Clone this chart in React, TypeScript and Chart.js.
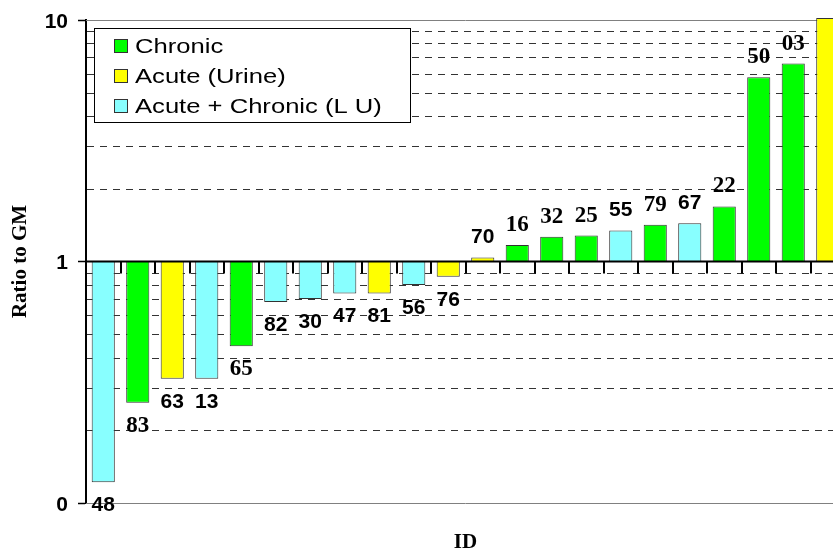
import React, { useEffect, useRef } from "react";
import { Chart, registerables } from "chart.js";

Chart.register(...registerables);

// ---- Data ----
const categories = ["48", "83", "63", "13", "65", "82", "30", "47", "81", "56", "76", "70", "16", "32", "25", "55", "79", "67", "22", "50", "03", ""];
const ratios = [0.122, 0.26, 0.327, 0.327, 0.446, 0.68, 0.70, 0.737, 0.737, 0.80, 0.865, 1.04, 1.17, 1.265, 1.28, 1.345, 1.42, 1.44, 1.69, 5.8, 6.6, 10.2];
const groups = ["LU", "Chronic", "Urine", "LU", "Chronic", "LU", "LU", "LU", "Urine", "LU", "Urine", "Urine", "Chronic", "Chronic", "Chronic", "LU", "Chronic", "LU", "Chronic", "Chronic", "Chronic", "Urine"];
const seriesKeys = ["Chronic", "Urine", "LU"];
const seriesNames = ["Chronic", "Acute (Urine)", "Acute + Chronic (L U)"];
const yTickValues = [0.1, 1, 10];
const yTickLabels = ["0", "1", "10"];
const minorGridValues = [0.2, 0.3, 0.4, 0.5, 0.6, 0.7, 0.8, 0.9, 2, 3, 4, 5, 6, 7, 8, 9];
const yTitle = "Ratio to GM";
const xTitle = "ID";

// ---- Styles ----
const seriesColors = ["#00FF00", "#FFFF00", "#88FFFF"];
const serifLabelIds = new Set(["83", "65", "16", "32", "25", "79", "22", "50", "03"]);
const SANS = "'Liberation Sans', Arial, sans-serif";
const SERIF = "'Liberation Serif', 'Times New Roman', serif";

const decorPlugin = {
  id: "decor",
  beforeDatasetsDraw(chart: any) {
    const { ctx, chartArea: a, scales } = chart;
    const y = scales.y;
    ctx.save();
    // dashed minor grid
    ctx.strokeStyle = "#333";
    ctx.lineWidth = 1;
    ctx.setLineDash([7, 6]);
    for (const v of minorGridValues) {
      const py = Math.round(y.getPixelForValue(v)) + 0.5;
      ctx.beginPath();
      ctx.moveTo(a.left + 1, py);
      ctx.lineTo(a.right, py);
      ctx.stroke();
    }
    ctx.setLineDash([]);
    // top & bottom solid gray borders
    ctx.strokeStyle = "#808080";
    for (const v of [y.min, y.max]) {
      const py = Math.round(y.getPixelForValue(v)) + 0.5;
      ctx.beginPath();
      ctx.moveTo(a.left, py);
      ctx.lineTo(a.right, py);
      ctx.stroke();
    }
    ctx.restore();
  },
  afterDatasetsDraw(chart: any) {
    const { ctx, chartArea: a, scales } = chart;
    const x = scales.x;
    const y = scales.y;
    ctx.save();
    // axis line at ratio 1
    const py1 = y.getPixelForValue(1);
    ctx.strokeStyle = "#000";
    ctx.lineWidth = 2;
    ctx.beginPath();
    ctx.moveTo(a.left, py1);
    ctx.lineTo(a.right, py1);
    ctx.stroke();
    // category tick marks
    for (let i = 0; i < categories.length; i++) {
      const px = Math.round(x.getPixelForValue(i + 0.5));
      ctx.beginPath();
      ctx.moveTo(px, py1);
      ctx.lineTo(px, py1 + 12);
      ctx.stroke();
    }
    // bar labels
    ctx.fillStyle = "#000";
    ctx.textAlign = "center";
    ctx.textBaseline = "middle";
    for (let i = 0; i < categories.length; i++) {
      const s = seriesKeys.indexOf(groups[i]);
      const el: any = chart.getDatasetMeta(s).data[i];
      if (!el || ratios[i] > y.max || !categories[i]) continue;
      const id = categories[i];
      ctx.font = serifLabelIds.has(id) ? `bold 23px ${SERIF}` : `bold 21px ${SANS}`;
      const ly = ratios[i] < 1 ? el.y + 23 : el.y - 20;
      ctx.fillText(id, el.x, ly);
    }
    // x title
    ctx.font = `bold 21px ${SERIF}`;
    ctx.fillText(xTitle, (a.left + a.right) / 2, 543);
    // legend
    const bx = 94.5, by = 28.5, bw = 316, bh = 94;
    ctx.fillStyle = "#fff";
    ctx.fillRect(bx, by, bw, bh);
    ctx.strokeStyle = "#000";
    ctx.lineWidth = 1;
    ctx.strokeRect(bx, by, bw, bh);
    const rows = [46, 76, 106];
    chart.data.datasets.forEach((ds: any, k: number) => {
      const cy = rows[k];
      ctx.fillStyle = ds.backgroundColor;
      ctx.fillRect(114.5, cy - 6.5, 13, 13);
      ctx.strokeStyle = "#333";
      ctx.strokeRect(114.5, cy - 6.5, 13, 13);
      ctx.save();
      ctx.translate(135, cy + 7.3);
      ctx.scale(1.28, 1);
      ctx.fillStyle = "#000";
      ctx.textAlign = "left";
      ctx.textBaseline = "alphabetic";
      ctx.font = `20px ${SANS}`;
      ctx.fillText(ds.label, 0, 0);
      ctx.restore();
    });
    ctx.restore();
  },
};

export default function App() {
  const ref = useRef<HTMLCanvasElement | null>(null);

  useEffect(() => {
    if (!ref.current) return;
    const datasets = seriesKeys.map((key, s) => ({
      label: seriesNames[s],
      data: ratios.map((v, i) => (groups[i] === key ? v : null)),
      backgroundColor: seriesColors[s],
      borderColor: "#333",
      borderWidth: 1,
      base: 1,
      grouped: false,
      categoryPercentage: 1,
      barPercentage: 0.67,
      clip: false as any,
    }));
    const chart = new Chart(ref.current, {
      type: "bar",
      data: { labels: categories, datasets },
      options: {
        responsive: false,
        maintainAspectRatio: false,
        animation: false,
        layout: { padding: { top: 20, bottom: 49, left: 0, right: 5 } },
        plugins: { legend: { display: false }, tooltip: { enabled: false } },
        scales: {
          x: { type: "category", display: false },
          y: {
            type: "logarithmic",
            min: 0.1,
            max: 10,
            position: "left",
            afterFit: (scale: any) => {
              scale.width = 86;
              scale.paddingTop = 0;
              scale.paddingBottom = 0;
            },
            afterBuildTicks: (scale: any) => {
              scale.ticks = yTickValues.map((v) => ({ value: v, major: true }));
            },
            ticks: {
              autoSkip: false,
              padding: 10,
              labelOffset: 2,
              color: "#000",
              font: { family: SANS, size: 21, weight: "bold" },
              callback: (_v: any, index: number) => yTickLabels[index],
            },
            grid: {
              drawOnChartArea: false,
              drawTicks: true,
              tickLength: 8,
              tickColor: "#000",
              tickWidth: 1.5,
            },
            border: { color: "#000", width: 2 },
            title: {
              display: true,
              text: yTitle,
              color: "#000",
              font: { family: SERIF, size: 21, weight: "bold" },
              padding: { top: 8, bottom: 0 },
            },
          },
        },
      } as any,
      plugins: [decorPlugin],
    });
    return () => chart.destroy();
  }, []);

  return (
    <div
      style={{
        position: "fixed",
        left: 0,
        top: 0,
        width: 833,
        height: 552,
        overflow: "hidden",
        background: "#fff",
      }}
    >
      <canvas ref={ref} width={850} height={552} style={{ display: "block" }} />
    </div>
  );
}
